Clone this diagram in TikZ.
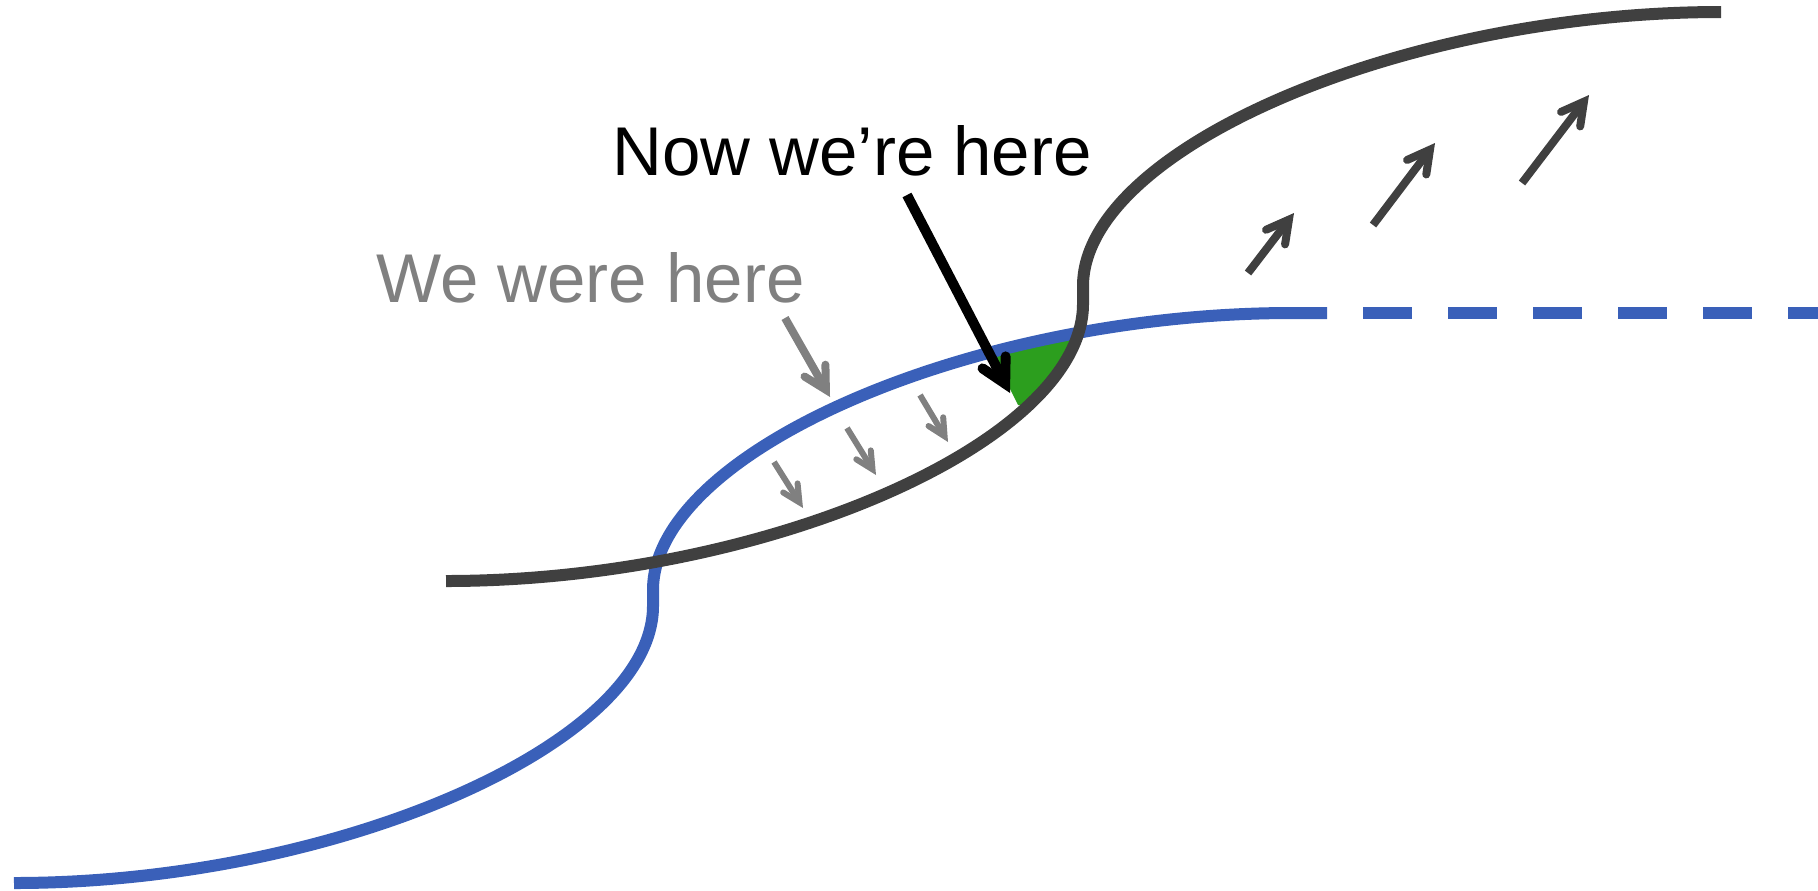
\documentclass[tikz,border=0pt]{standalone}
\usepackage{fontspec}
\setmainfont{Liberation Sans}
\usetikzlibrary{arrows.meta}
\definecolor{cblue}{RGB}{58,96,185}
\definecolor{cdark}{RGB}{64,64,64}
\definecolor{cgray}{RGB}{128,128,128}
\definecolor{cgreen}{RGB}{44,158,30}
\tikzset{
  curveline/.style={line width=6pt, line cap=butt},
  bluecurve/.style={curveline, draw=cblue},
  darkcurve/.style={curveline, draw=cdark},
  blackarrow/.style={draw=black, line width=5pt, line cap=butt,
    -{Straight Barb[length=12pt,width=13pt,line cap=round,line join=miter]}},
  grayarrow/.style={draw=cgray, line width=4pt, line cap=butt,
    -{Straight Barb[length=11pt,width=12pt,line cap=round,line join=miter]}},
  smallarrow/.style={draw=cgray, line width=3pt, line cap=butt,
    -{Straight Barb[length=8.5pt,width=8.5pt,line cap=round,line join=miter]}},
  uparrow/.style={draw=cdark, line width=4pt, line cap=butt,
    -{Straight Barb[length=11pt,width=12pt,line cap=round,line join=miter]}},
  label/.style={font=\fontsize{34.5pt}{40pt}\selectfont, inner sep=0pt, anchor=base west},
}
\begin{document}
\begin{tikzpicture}[x=0.5pt,y=-0.5pt]
\useasboundingbox (0,0) rectangle (1818,890);
% green wedge
\begin{scope}
  \clip (653,590) .. controls (653,451.5) and (972.5,313) .. (1292,313) -- (1292,900) -- (653,900) -- cycle;
  \clip (446,581) .. controls (764.5,581) and (1083,442.5) .. (1083,304) -- (1083,0) -- (446,0) -- cycle;
  \fill[cgreen] (983,335) -- (1018,405) -- (1130,405) -- (1130,300) -- (983,300) -- cycle;
\end{scope}
% blue curve
\draw[bluecurve] (14,883) .. controls (333.5,883) and (653,744.5) .. (653,606)
  -- (653,590) .. controls (653,451.5) and (972.5,313) .. (1292,313) -- (1327,313);
\coordinate (bd1) at (1363,313);
\coordinate (bd2) at (1818,313);
\draw[bluecurve, dash pattern=on 24.5pt off 18pt] (bd1) -- (bd2);
% dark curve
\draw[darkcurve] (446,581) .. controls (764.5,581) and (1083,442.5) .. (1083,304)
  -- (1083,286) .. controls (1083,149) and (1402,12) .. (1721,12);
% labels
\node[label, text=black] (now) at (612,175) {Now we’re here};
\node[label, text=cgray] (were) at (376,302) {We were here};
% black arrow
\coordinate (ba1) at (907,195);
\coordinate (ba2) at (1010,393);
\draw[blackarrow] (ba1) -- (ba2);
% gray arrow
\coordinate (ga1) at (785,318);
\coordinate (ga2) at (830,397);
\draw[grayarrow] (ga1) -- (ga2);
% small gray arrows
\coordinate (sa1) at (774,462); \coordinate (sa2) at (803,508);
\coordinate (sb1) at (847,428); \coordinate (sb2) at (876,475);
\coordinate (sc1) at (920,395); \coordinate (sc2) at (948,442);
\draw[smallarrow] (sa1) -- (sa2);
\draw[smallarrow] (sb1) -- (sb2);
\draw[smallarrow] (sc1) -- (sc2);
% dark up arrows
\coordinate (ua1) at (1248,273); \coordinate (ua2) at (1294,213);
\coordinate (ub1) at (1373,225); \coordinate (ub2) at (1435,143);
\coordinate (uc1) at (1522,183); \coordinate (uc2) at (1589,95);
\draw[uparrow] (ua1) -- (ua2);
\draw[uparrow] (ub1) -- (ub2);
\draw[uparrow] (uc1) -- (uc2);
\end{tikzpicture}
\end{document}
